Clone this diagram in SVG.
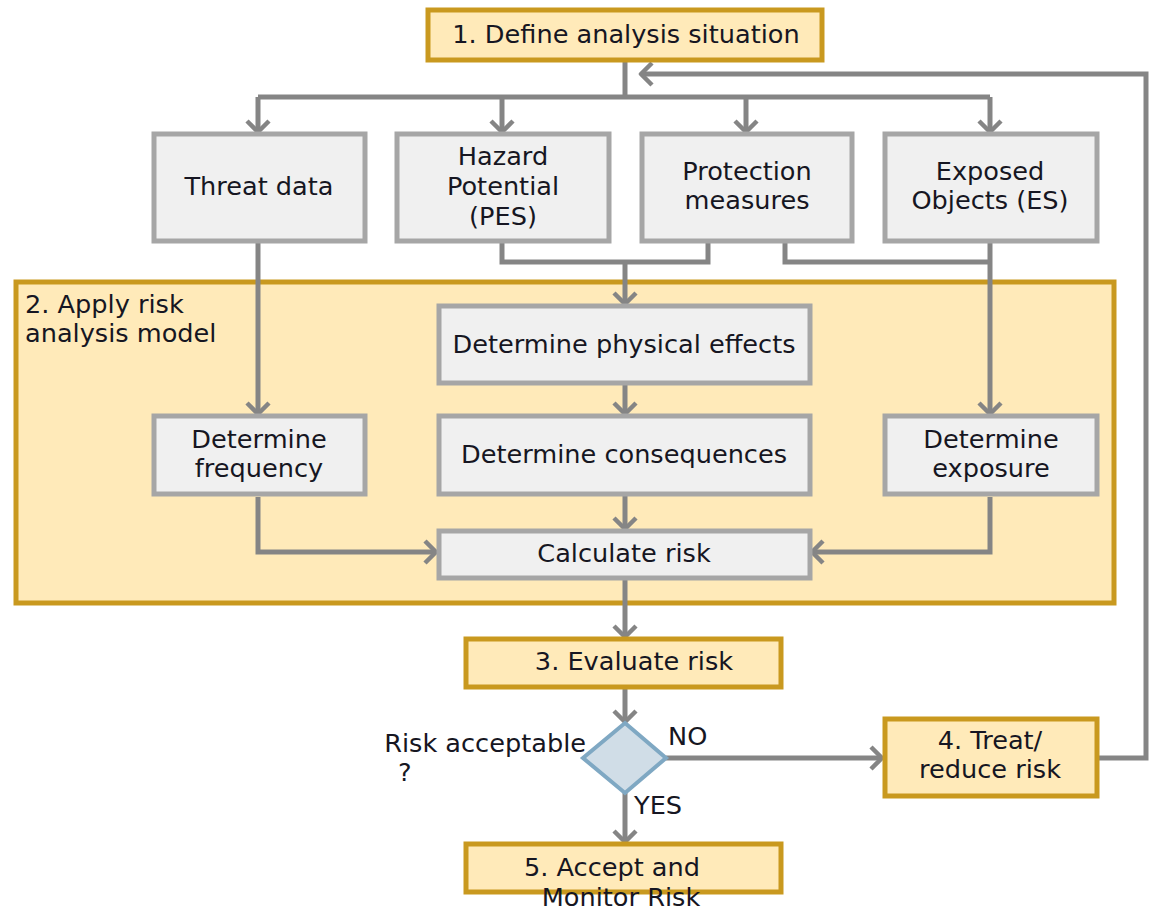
<svg xmlns="http://www.w3.org/2000/svg" width="1149" height="914" viewBox="0 0 1149 914">
<defs>
<marker id="arr" markerUnits="userSpaceOnUse" viewBox="0 0 16 26" markerWidth="16" markerHeight="26" refX="13" refY="13" orient="auto">
<path d="M2,2 L13,13 L2,24" fill="none" stroke="#858585" stroke-width="4.5" stroke-linejoin="round"/>
</marker>
</defs>
<style>
.gold{fill:#FFEAB9;stroke:#C9991F;stroke-width:5}
.gray{fill:#F0F0F0;stroke:#A6A6A6;stroke-width:5}
.dia{fill:#D0DDE7;stroke:#7FA8C3;stroke-width:4}
.t{font-family:"DejaVu Sans","Liberation Sans",sans-serif;font-size:25.6px;fill:#161622}
.c{text-anchor:middle}
.e{text-anchor:end}
.ln{fill:none;stroke:#858585;stroke-width:5}
.la{fill:none;stroke:#858585;stroke-width:5;marker-end:url(#arr)}
</style>
<g id="container">
<rect x="16" y="282" width="1098" height="321" class="gold"/>
<text class="t" x="25" y="313">2. Apply risk</text>
<text class="t" x="25" y="342">analysis model</text>
</g>
<g id="connectors">
<path class="ln" d="M625,61 V97"/>
<path class="ln" d="M258,97 H990"/>
<path class="la" d="M258,97 V132"/>
<path class="la" d="M502,97 V132"/>
<path class="la" d="M746,97 V132"/>
<path class="la" d="M990,97 V132"/>
<path class="la" d="M1098,758 H1146 V74 H641"/>
<path class="la" d="M258,243 V414"/>
<path class="ln" d="M502,243 V262 H708 V243"/>
<path class="la" d="M625,262 V304"/>
<path class="ln" d="M785,243 V262 H990"/>
<path class="la" d="M990,243 V414"/>
<path class="la" d="M625,385 V414"/>
<path class="la" d="M258,497 V552 H436"/>
<path class="la" d="M990,497 V552 H812"/>
<path class="la" d="M625,495 V529"/>
<path class="la" d="M625,580 V637"/>
<path class="la" d="M625,689 V722"/>
<path class="la" d="M666,758 H882"/>
<path class="la" d="M625,793 V842"/>
</g>
<g id="n1">
<rect x="428" y="10" width="394" height="50" class="gold"/>
<text class="t c" x="626" y="43">1. Define analysis situation</text>
</g>
<g id="threat">
<rect x="154" y="134" width="211" height="107" class="gray"/>
<text class="t c" x="259" y="195">Threat data</text>
</g>
<g id="hazard">
<rect x="397" y="134" width="212" height="107" class="gray"/>
<text class="t c" x="503" y="165">Hazard</text>
<text class="t c" x="503" y="195">Potential</text>
<text class="t c" x="503" y="225">(PES)</text>
</g>
<g id="protection">
<rect x="642" y="134" width="210" height="107" class="gray"/>
<text class="t c" x="747" y="180">Protection</text>
<text class="t c" x="747" y="209">measures</text>
</g>
<g id="exposed">
<rect x="885" y="134" width="212" height="107" class="gray"/>
<text class="t c" x="990" y="180">Exposed</text>
<text class="t c" x="990" y="209">Objects (ES)</text>
</g>
<g id="physical">
<rect x="439" y="306" width="371" height="77" class="gray"/>
<text class="t c" x="624" y="353">Determine physical effects</text>
</g>
<g id="frequency">
<rect x="154" y="416" width="211" height="78" class="gray"/>
<text class="t c" x="259" y="448">Determine</text>
<text class="t c" x="259" y="477">frequency</text>
</g>
<g id="consequences">
<rect x="439" y="416" width="371" height="78" class="gray"/>
<text class="t c" x="624" y="463">Determine consequences</text>
</g>
<g id="exposure">
<rect x="885" y="416" width="212" height="78" class="gray"/>
<text class="t c" x="991" y="448">Determine</text>
<text class="t c" x="991" y="477">exposure</text>
</g>
<g id="calc">
<rect x="439" y="531" width="371" height="47" class="gray"/>
<text class="t c" x="624" y="562">Calculate risk</text>
</g>
<g id="evaluate">
<rect x="466" y="639" width="315" height="48" class="gold"/>
<text class="t c" x="634" y="670">3. Evaluate risk</text>
</g>
<g id="decision">
<polygon points="625,723 666,758 625,793 583,758" class="dia"/>
<text class="t e" x="586" y="752">Risk acceptable</text>
<text class="t" x="398" y="781">?</text>
<text class="t" x="668" y="745">NO</text>
<text class="t" x="634" y="814">YES</text>
</g>
<g id="treat">
<rect x="885" y="719" width="212" height="77" class="gold"/>
<text class="t c" x="990" y="749">4. Treat/</text>
<text class="t c" x="990" y="778">reduce risk</text>
</g>
<g id="accept">
<rect x="466" y="844" width="315" height="48" class="gold"/>
<text class="t c" x="612" y="876">5. Accept and</text>
<text class="t c" x="621" y="906">Monitor Risk</text>
</g>
</svg>
